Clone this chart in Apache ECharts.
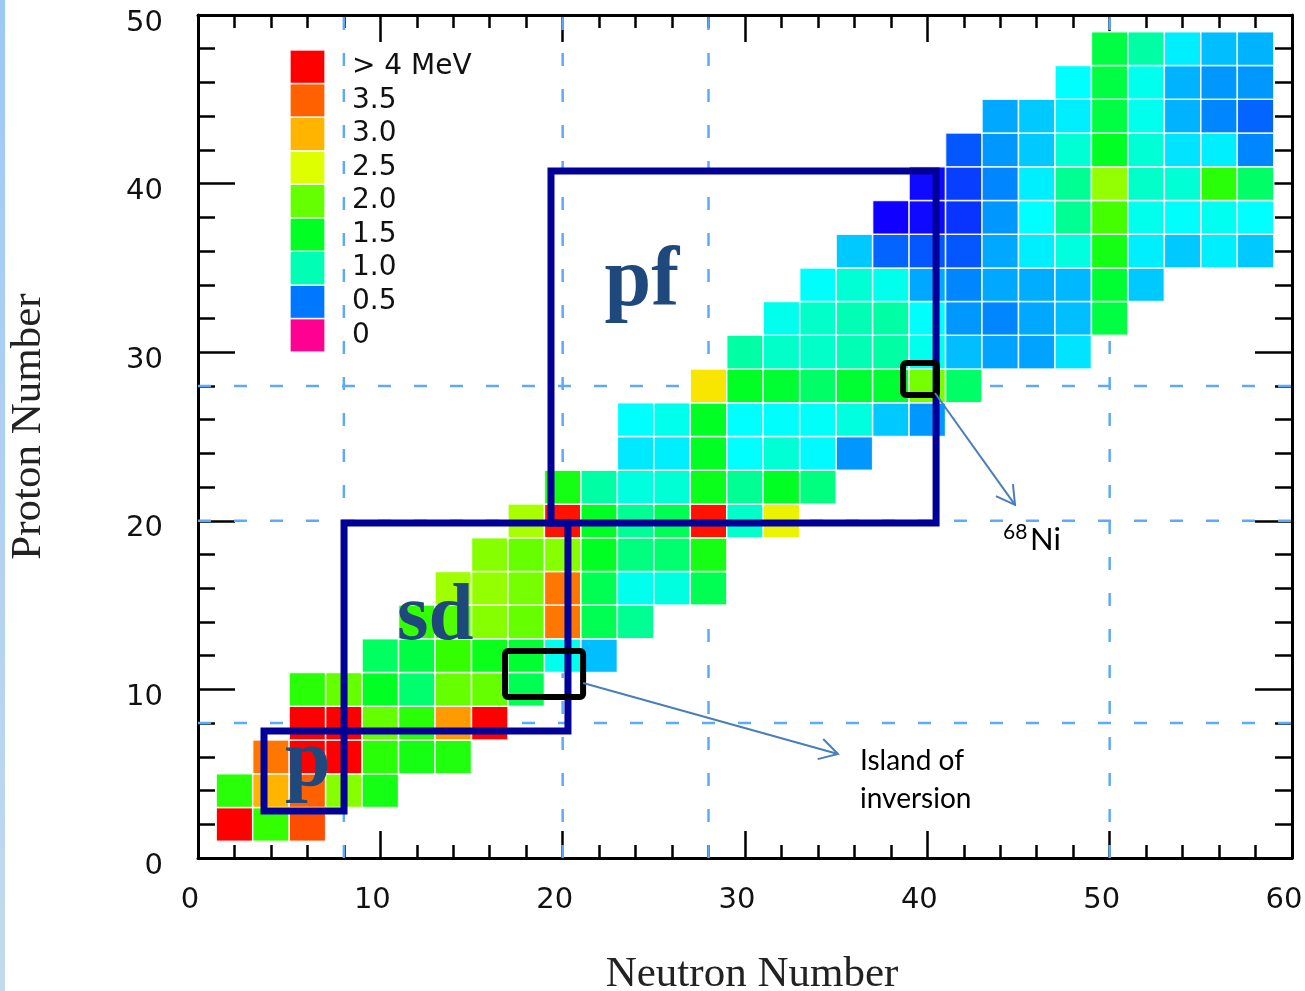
<!DOCTYPE html>
<html><head><meta charset="utf-8">
<script src="https://cdn.jsdelivr.net/npm/echarts@6/dist/echarts.min.js"></script>
<style>html,body{margin:0;padding:0;background:#fff}#c{width:1305px;height:991px}</style>
</head><body><div id="c"></div>
<script>
// ---------------- data (energies in MeV, even-even nuclei) ----------------
// each row: proton number Z, first neutron number N of the row, values for N, N+2, N+4 ...
const z2  = [4.5, 1.75, 3.6];
const z4  = [1.7, 3.0, 3.5, 2.12, 1.6];
const z6  = [3.37, 4.5, 4.5, 1.7, 1.6, 1.65];
const z8  = [4.5, 4.5, 2.0, 1.7, 3.15, 4.5];
const z10 = [1.7, 2.0, 1.5, 1.22, 2.0, 2.0, 1.32];
const z12 = [1.27, 1.38, 1.75, 1.55, 1.44, 0.81, 0.63];
const z14 = [1.75, 1.9, 2.12, 2.0, 3.37, 1.32, 1.11];
const z16 = [2.22, 2.17, 2.06, 3.37, 1.32, 0.81, 0.86, 1.32];
const z18 = [2.12, 2.0, 2.12, 1.5, 1.17, 1.22, 1.6];
const z20 = [2.25, 3.9, 1.5, 1.11, 1.32, 3.9, 0.93, 2.6];
const z22 = [1.6, 1.05, 0.86, 0.89, 1.55, 1.11, 1.5, 1.17];
const z24 = [0.71, 0.72, 1.5, 0.75, 0.89, 0.74, 0.56];
const z26 = [0.75, 0.81, 1.5, 0.75, 0.76, 0.77, 0.86, 0.65, 0.56];
const z28 = [2.7, 1.5, 1.44, 1.25, 1.44, 1.44, 2.06, 1.25];
const z30 = [1.05, 0.93, 0.93, 1.0, 1.05, 0.81, 0.63, 0.58, 0.58, 0.70];
const z32 = [0.81, 0.93, 1.0, 1.05, 0.76, 0.56, 0.53, 0.59, 0.63, 1.38];
const z34 = [0.76, 0.89, 0.81, 0.59, 0.53, 0.59, 0.6, 0.62, 1.44, 0.65];
const z36 = [0.65, 0.46, 0.43, 0.43, 0.59, 0.72, 0.86, 1.6, 0.72, 0.65, 0.72, 0.65];
const z38 = [0.25, 0.27, 0.36, 0.56, 0.75, 1.11, 1.83, 0.81, 0.76, 0.8, 0.75];
const z40 = [0.27, 0.38, 0.53, 0.72, 1.11, 2.17, 0.93, 0.89, 1.7, 1.25];
const z42 = [0.43, 0.56, 0.65, 0.89, 1.5, 0.89, 0.7, 0.72, 0.53];
const z44 = [0.59, 0.65, 0.72, 1.38, 0.81, 0.61, 0.53, 0.46];
const z46 = [0.75, 1.38, 0.81, 0.61, 0.56, 0.56];
const z48 = [1.38, 1.05, 0.72, 0.63, 0.61];

const protonNumbers = [2,4,6,8,10,12,14,16,18,20,22,24,26,28,30,32,34,36,38,40,42,44,46,48];
const firstNeutron  = [2,2,4,6,6,10,12,14,16,18,20,24,24,28,30,32,34,36,38,40,42,44,48,50];
const rowValues = [z2,z4,z6,z8,z10,z12,z14,z16,z18,z20,z22,z24,z26,z28,z30,z32,z34,z36,z38,z40,z42,z44,z46,z48];

const legendLabels = ['0','0.5','1.0','1.5','2.0','2.5','3.0','3.5','> 4 MeV'];
const legendValues = [0, 0.5, 1.0, 1.5, 2.0, 2.5, 3.0, 3.5, 4.5];

const magicNeutron = [8, 20, 28, 50];
const magicProton  = [8, 20, 28];

// annotations (data units)
const shellBoxes = [[3.62,2.79,8.01,7.53],[8.01,7.53,20.29,19.87],[19.36,19.87,40.48,40.75]];
const markBoxes  = [[38.67,27.46,40.53,29.36],[16.84,9.55,21.12,12.28]];
const arrowLines = [[40.42,27.58,44.81,20.94],[21.12,10.38,35.10,6.17]];
const noteTexts  = ['pf','sd','p','Island of\ninversion','68','Ni'];
const notePos    = [[22.3,34.1],[10.91,14.23],[4.77,5.58],[36.31,4.62],[44.15,19.34],[45.63,18.86]];
const noteFonts  = ['bold 84px "Liberation Serif"','bold 81px "Liberation Serif"','bold 82px "Liberation Serif"',
                    '28px Lato','21px Lato','31px Lato'];
const noteColors = ['#1f497d','#1f497d','#1f497d','#000','#000','#000'];

// ---------------- build ----------------
const cells = [];
rowValues.forEach((vals, r) => {
  vals.forEach((v, i) => cells.push([firstNeutron[r] + 2*i, protonNumbers[r], v]));
});
const magicData = magicNeutron.map(n => [n, 0, 0]).concat(magicProton.map(z => [0, z, 1]));
const legendData = legendValues.map((v, i) => [0, i, v]);

const colorStops = ['#ff0090','#1000ff','#0077ff','#00ffff','#00ffb4','#00ff66','#00ff22','#33ff00','#66ff00',
  '#a8ff00','#ddff00','#ffe000','#ffb400','#ff8a00','#ff6000','#ff3000','#ff0000','#ff0000','#ff0000'];

const chart = echarts.init(document.getElementById('c'), null, {renderer:'canvas'});
const tickStyle = {color:'#000', width:2.5};
const labelFont = {fontFamily:'DejaVu Sans', fontSize:29, color:'#111'};

chart.setOption({
  animation:false,
  backgroundColor:'#fff',
  graphic:[{type:'rect', left:0, top:0, shape:{width:5, height:991},
    style:{fill:new echarts.graphic.LinearGradient(0,0,0,1,[{offset:0,color:'#9cc9f7'},{offset:1,color:'#c4d9ee'}])}, z:0}],
  grid:[
    {left:198, top:15, width:1094, height:843, containLabel:false, outerBoundsMode:'none'},
    {left:290, top:50, width:35, height:302, containLabel:false, outerBoundsMode:'none'}
  ],
  xAxis:[
    {type:'value', gridIndex:0, min:0, max:60, interval:10, position:'bottom',
     axisLine:{show:true, onZero:false, lineStyle:{color:'#000', width:3}},
     axisTick:{show:true, inside:true, length:27, lineStyle:tickStyle},
     minorTick:{show:true, splitNumber:5, length:13, lineStyle:tickStyle},
     splitLine:{show:false},
     axisLabel:Object.assign({margin:28, padding:[0,16,0,0]}, labelFont),
     name:'Neutron Number', nameLocation:'middle', nameGap:95,
     nameTextStyle:{fontFamily:'Liberation Serif', fontSize:43, color:'#222', padding:[0,0,0,14]}},
    {type:'value', gridIndex:0, min:0, max:60, interval:10, position:'top',
     axisLine:{show:true, onZero:false, lineStyle:{color:'#000', width:3}},
     axisTick:{show:true, inside:true, length:27, lineStyle:tickStyle},
     minorTick:{show:true, splitNumber:5, length:13, lineStyle:tickStyle},
     splitLine:{show:false}, axisLabel:{show:false}},
    {type:'category', gridIndex:1, data:[''], show:false}
  ],
  yAxis:[
    {type:'value', gridIndex:0, min:0, max:50, interval:10, position:'left',
     axisLine:{show:true, onZero:false, lineStyle:{color:'#000', width:3}},
     axisTick:{show:true, inside:true, length:37, lineStyle:tickStyle},
     minorTick:{show:true, splitNumber:5, length:17, lineStyle:tickStyle},
     splitLine:{show:false},
     axisLabel:Object.assign({margin:35, verticalAlign:'top', lineHeight:16}, labelFont),
     name:'Proton Number', nameLocation:'middle', nameGap:148,
     nameTextStyle:{fontFamily:'Liberation Serif', fontSize:43, color:'#222', padding:[0,0,0,20]}},
    {type:'value', gridIndex:0, min:0, max:50, interval:10, position:'right',
     axisLine:{show:true, onZero:false, lineStyle:{color:'#000', width:3}},
     axisTick:{show:true, inside:true, length:37, lineStyle:tickStyle},
     minorTick:{show:true, splitNumber:5, length:17, lineStyle:tickStyle},
     splitLine:{show:false}, axisLabel:{show:false}},
    {type:'category', gridIndex:1, data:legendLabels, position:'right',
     axisLine:{show:false}, axisTick:{show:false}, splitLine:{show:false},
     axisLabel:{interval:0, margin:27, align:'left', fontFamily:'DejaVu Sans', fontSize:28, color:'#111'}}
  ],
  visualMap:[{type:'continuous', show:false, min:0, max:4.5, dimension:2, seriesIndex:[1,2],
    inRange:{color:colorStops}}],
  series:[
    {type:'custom', name:'magic', xAxisIndex:0, yAxisIndex:0, z:1, silent:true, data:magicData,
     renderItem:function(params, api){
       const kind = api.value(2);
       let a, b;
       if (kind === 0) { a = api.coord([api.value(0), 0]); b = api.coord([api.value(0), 50]); }
       else { a = api.coord([0, api.value(1)]); b = api.coord([60, api.value(1)]); }
       return {type:'line', shape:{x1:a[0], y1:a[1], x2:b[0], y2:b[1]},
         style:{stroke:'#5eaaf6', lineWidth:2.5, lineDash:[13,23]}};
     }},
    {type:'custom', name:'cells', xAxisIndex:0, yAxisIndex:0, z:2, silent:true, data:cells,
     encode:{x:0, y:1},
     renderItem:function(params, api){
       const p = api.coord([api.value(0)-1, api.value(1)+1]);
       const s = api.size([2,2]);
       return {type:'rect', shape:{x:p[0], y:p[1], width:s[0], height:s[1]},
         style:{fill:api.visual('color'), stroke:'rgba(255,255,255,0.85)', lineWidth:1.5}};
     }},
    {type:'custom', name:'legend', xAxisIndex:2, yAxisIndex:2, z:2, silent:true, data:legendData,
     encode:{x:0, y:1},
     renderItem:function(params, api){
       const c = api.coord([api.value(0), api.value(1)]);
       const s = api.size([1,1]);
       return {type:'rect', shape:{x:c[0]-s[0]/2, y:c[1]-s[1]/2, width:s[0], height:s[1]},
         style:{fill:api.visual('color'), stroke:'rgba(255,255,255,0.85)', lineWidth:1.5}};
     }},
    {type:'custom', name:'shells', xAxisIndex:0, yAxisIndex:0, z:5, silent:true, data:shellBoxes,
     encode:{x:[0,2], y:[1,3]},
     renderItem:function(params, api){
       const a = api.coord([api.value(0), api.value(3)]);
       const b = api.coord([api.value(2), api.value(1)]);
       return {type:'rect', shape:{x:a[0], y:a[1], width:b[0]-a[0], height:b[1]-a[1]},
         style:{fill:'none', stroke:'#000099', lineWidth:7}};
     }},
    {type:'custom', name:'marks', xAxisIndex:0, yAxisIndex:0, z:6, silent:true, data:markBoxes,
     encode:{x:[0,2], y:[1,3]},
     renderItem:function(params, api){
       const a = api.coord([api.value(0), api.value(3)]);
       const b = api.coord([api.value(2), api.value(1)]);
       return {type:'rect', shape:{x:a[0], y:a[1], width:b[0]-a[0], height:b[1]-a[1], r:3},
         style:{fill:'none', stroke:'#000', lineWidth:6}};
     }},
    {type:'custom', name:'arrows', xAxisIndex:0, yAxisIndex:0, z:6, silent:true, data:arrowLines,
     encode:{x:[0,2], y:[1,3]},
     renderItem:function(params, api){
       const a = api.coord([api.value(0), api.value(1)]);
       const b = api.coord([api.value(2), api.value(3)]);
       const ang = Math.atan2(b[1]-a[1], b[0]-a[0]);
       const L = 21, w = 0.52;
       const h1 = [b[0]-L*Math.cos(ang-w), b[1]-L*Math.sin(ang-w)];
       const h2 = [b[0]-L*Math.cos(ang+w), b[1]-L*Math.sin(ang+w)];
       return {type:'group', children:[
         {type:'line', shape:{x1:a[0], y1:a[1], x2:b[0], y2:b[1]}, style:{stroke:'#4a7ebb', lineWidth:2}},
         {type:'polyline', shape:{points:[h1, b, h2]}, style:{stroke:'#4a7ebb', lineWidth:2, fill:'none'}}
       ]};
     }},
    {type:'custom', name:'notes', xAxisIndex:0, yAxisIndex:0, z:7, silent:true, data:notePos,
     encode:{x:0, y:1},
     renderItem:function(params, api){
       const i = params.dataIndex;
       const p = api.coord([api.value(0), api.value(1)]);
       return {type:'text', x:p[0], y:p[1],
         style:{text:noteTexts[i], font:noteFonts[i], fill:noteColors[i], align:'left', verticalAlign:'middle', lineHeight:38}};
     }}
  ]
});
</script>
</body></html>
